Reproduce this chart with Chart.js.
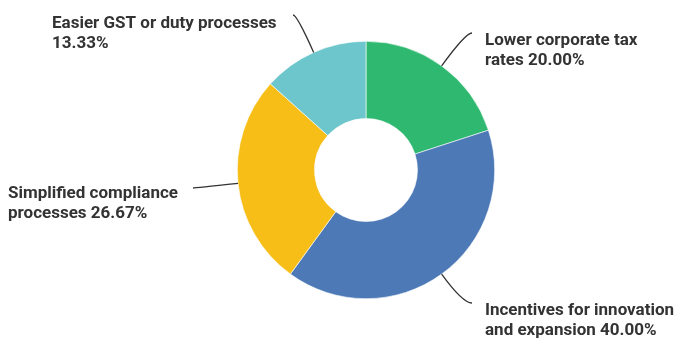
<!DOCTYPE html>
<html>
<head>
<meta charset="utf-8">
<script src="https://cdn.jsdelivr.net/npm/chart.js@4.4.0/dist/chart.umd.min.js"></script>
<style>
  html, body { margin: 0; padding: 0; background: #fff; }
  #contenedor { width: 678px; height: 355px; position: relative; }
</style>
</head>
<body>
<div id="contenedor"><canvas id="grafico"></canvas></div>
<script>
// === Datos ===
const categorias = [
  "Lower corporate tax rates",
  "Incentives for innovation and expansion",
  "Simplified compliance processes",
  "Easier GST or duty processes"
];
const porcentajes = [20.00, 40.00, 26.67, 13.33];
const colores = ["#2fb870", "#4d7ab6", "#f6be17", "#6cc6cb"];

// posicion de cada etiqueta y final de su linea guia
const etiquetas = [
  { x: 485, y: 45, ancho: 172, fin: [472, 33] },
  { x: 485, y: 315, ancho: 198, fin: [472, 303] },
  { x: 8, y: 198, ancho: 182, fin: [193, 188] },
  { x: 52, y: 28, ancho: 235, fin: [293, 15] }
];

// parte el texto en lineas segun el ancho disponible
function partirTexto(ctx, texto, ancho) {
  const palabras = texto.split(" ");
  const lineas = [];
  let actual = "";
  palabras.forEach(p => {
    const prueba = actual ? actual + " " + p : p;
    if (ctx.measureText(prueba).width > ancho && actual) {
      lineas.push(actual);
      actual = p;
    } else {
      actual = prueba;
    }
  });
  if (actual) lineas.push(actual);
  return lineas;
}

// Plugin: lineas guia curvas y etiquetas fuera del anillo
const etiquetasExternas = {
  id: "etiquetasExternas",
  afterDatasetsDraw(chart) {
    const ctx = chart.ctx;
    const meta = chart.getDatasetMeta(0);
    ctx.save();
    meta.data.forEach((arco, i) => {
      const conf = etiquetas[i];
      const { x, y, startAngle, endAngle, outerRadius } =
        arco.getProps(["x", "y", "startAngle", "endAngle", "outerRadius"], true);
      const medio = (startAngle + endAngle) / 2;
      const sx = x + Math.cos(medio) * outerRadius;
      const sy = y + Math.sin(medio) * outerRadius;
      const [ex, ey] = conf.fin;

      // punto de control: donde el radio corta la horizontal del final
      let cx = (sx + ex) / 2, cy = (sy + ey) / 2;
      const s = Math.sin(medio);
      if (Math.abs(s) > 0.01) {
        const t = (ey - sy) / s;
        if (t > 0) {
          cx = sx + Math.cos(medio) * t;
          cy = ey;
        }
      }

      ctx.beginPath();
      ctx.moveTo(sx, sy);
      ctx.quadraticCurveTo(cx, cy, ex, ey);
      ctx.strokeStyle = "#333333";
      ctx.lineWidth = 1.3;
      ctx.stroke();

      ctx.font = "bold 17px Roboto, 'Open Sans', sans-serif";
      ctx.fillStyle = "#333333";
      ctx.textAlign = "left";
      ctx.textBaseline = "alphabetic";
      const texto = categorias[i] + " " + porcentajes[i].toFixed(2) + "%";
      partirTexto(ctx, texto, conf.ancho).forEach((linea, j) => {
        ctx.fillText(linea, conf.x, conf.y + j * 20);
      });
    });
    ctx.restore();
  }
};

const ctx = document.getElementById("grafico").getContext("2d");
const grafico = new Chart(ctx, {
  type: "doughnut",
  data: {
    labels: categorias,
    datasets: [{
      data: porcentajes,
      backgroundColor: colores,
      borderColor: "#ffffff",
      borderWidth: 0.6
    }]
  },
  options: {
    responsive: true,
    maintainAspectRatio: false,
    animation: false,
    cutout: "40%",
    layout: {
      padding: { left: 237, right: 183, top: 41, bottom: 56 }
    },
    plugins: {
      legend: { display: false },
      tooltip: { enabled: false }
    }
  },
  plugins: [etiquetasExternas]
});
</script>
</body>
</html>
